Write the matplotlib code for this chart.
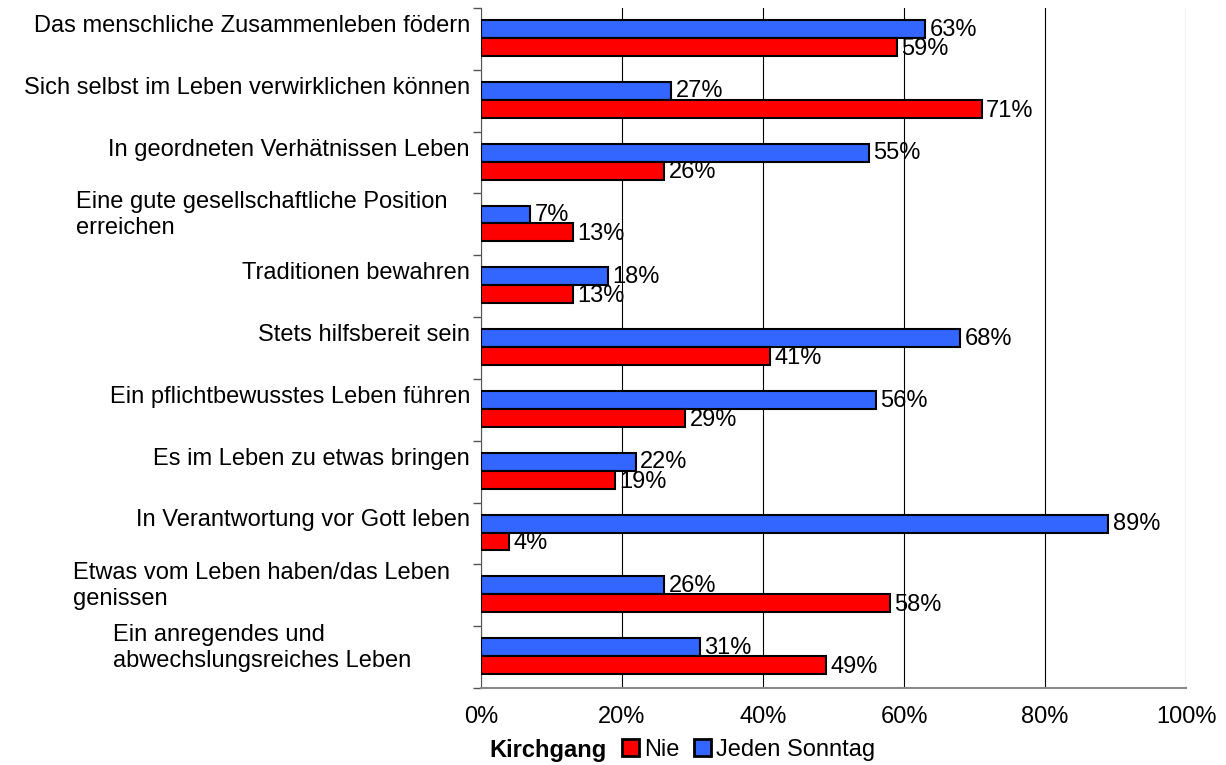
import numpy as np
import matplotlib
matplotlib.use("Agg")
import matplotlib.pyplot as plt
import matplotlib.transforms as mtransforms
from matplotlib.patches import Patch

plt.rcParams['font.family'] = ['Liberation Sans', 'DejaVu Sans']

# Data (top to bottom)
categories = [
    "Das menschliche Zusammenleben födern",
    "Sich selbst im Leben verwirklichen können",
    "In geordneten Verhätnissen Leben",
    "Eine gute gesellschaftliche Position\nerreichen",
    "Traditionen bewahren",
    "Stets hilfsbereit sein",
    "Ein pflichtbewusstes Leben führen",
    "Es im Leben zu etwas bringen",
    "In Verantwortung vor Gott leben",
    "Etwas vom Leben haben/das Leben\ngenissen",
    "Ein anregendes und\nabwechslungsreiches Leben",
]
jeden_sonntag = [63, 27, 55, 7, 18, 68, 56, 22, 89, 26, 31]
nie = [59, 71, 26, 13, 13, 41, 29, 19, 4, 58, 49]
xticks = [0, 20, 40, 60, 80, 100]

blue = '#3366FF'
red = '#FF0000'
fs = 17

fig = plt.figure(figsize=(12.26, 7.65), dpi=100)
ax = fig.add_axes([481 / 1226, 1 - 688 / 765, 705 / 1226, 680 / 765])

n = len(categories)
y = np.arange(n)
h = 0.29
ax.barh(y - 0.16, jeden_sonntag, height=h, color=blue, edgecolor='black', linewidth=1.5, zorder=3)
ax.barh(y + 0.13, nie, height=h, color=red, edgecolor='black', linewidth=1.5, zorder=3)

# value labels next to the bars
for i in range(n):
    ax.text(jeden_sonntag[i] + 0.6, y[i] - 0.15, f"{jeden_sonntag[i]}%", va='center', ha='left', fontsize=fs, zorder=4)
    ax.text(nie[i] + 0.6, y[i] + 0.16, f"{nie[i]}%", va='center', ha='left', fontsize=fs, zorder=4)

ax.set_xlim(0, 100)
ax.set_ylim(n - 0.5, -0.5)
ax.set_xticks(xticks)
ax.set_xticklabels([f"{t}%" for t in xticks], fontsize=fs)
ax.tick_params(axis='x', length=0, pad=13)
ax.grid(axis='x', color='black', linewidth=0.8, zorder=0)

# category boundaries as y ticks
ax.set_yticks(np.arange(n + 1) - 0.5)
ax.set_yticklabels([])
ax.tick_params(axis='y', length=6, width=1, color='#555555')

trans = mtransforms.blended_transform_factory(ax.transAxes, ax.transData)
for i, cat in enumerate(categories):
    if '\n' in cat:
        # wrapped labels: block centred, lines left aligned
        ax.text((262 - 481) / 705, y[i] - 0.15, cat, transform=trans, ha='center', va='center',
                multialignment='left', fontsize=fs)
    else:
        ax.text(-11 / 705, y[i] - 0.21, cat, transform=trans, ha='right', va='center', fontsize=fs)

ax.spines['top'].set_visible(False)
ax.spines['right'].set_visible(False)
ax.spines['left'].set_color('#555555')
ax.spines['bottom'].set_color('#888888')
ax.spines['bottom'].set_linewidth(1.5)

# legend with bold title on the left
handles = [Patch(facecolor=red, edgecolor='black', linewidth=2, label='Nie'),
           Patch(facecolor=blue, edgecolor='black', linewidth=2, label='Jeden Sonntag')]
fig.text(489 / 1226, 1 - 750 / 765, "Kirchgang", fontsize=fs, fontweight='bold', ha='left', va='center')
fig.legend(handles=handles, loc='center left', bbox_to_anchor=(622 / 1226, 1 - 750 / 765), ncol=2,
           frameon=False, fontsize=fs, handlelength=0.7, handleheight=0.7, handletextpad=0.25,
           columnspacing=0.6, borderpad=0, borderaxespad=0)

fig.savefig('out.png', dpi=100)
